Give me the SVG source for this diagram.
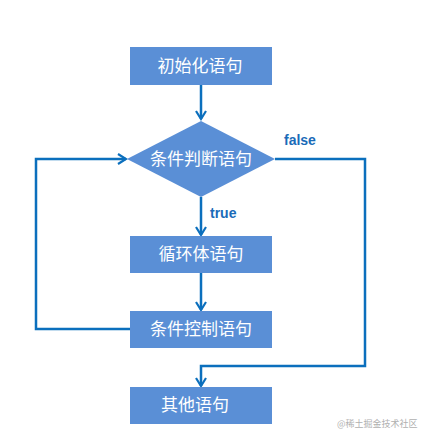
<svg xmlns="http://www.w3.org/2000/svg" width="430" height="440" viewBox="0 0 430 440">
<style>
.box{fill:#5a8fd6}
.t{fill:#fff;font-family:"Noto Sans CJK SC","Noto Sans",sans-serif;font-size:17px;text-anchor:middle}
.lbl{fill:#1a6bb8;font-family:"Liberation Sans","Noto Sans",sans-serif;font-size:14px;font-weight:bold}
.ln{fill:none;stroke:#0b6fbd;stroke-width:2.5}
.wm{fill:#b0b0b0;font-family:"Noto Sans CJK SC",sans-serif;font-size:9px}
</style>
<defs>
<marker id="ah" viewBox="0 0 12 12" refX="10" refY="6" markerWidth="12" markerHeight="12" markerUnits="userSpaceOnUse" orient="auto">
<path d="M2,1 L10,6 L2,11" fill="none" stroke="#0b6fbd" stroke-width="2.2"/>
</marker>
</defs>
<rect width="430" height="440" fill="#fff"/>
<g id="connectors">
<path class="ln" d="M201,85 V119" marker-end="url(#ah)"/>
<path class="ln" d="M201,197 V235" marker-end="url(#ah)"/>
<path class="ln" d="M201,273 V310" marker-end="url(#ah)"/>
<path class="ln" d="M130,329 H36 V159 H126" marker-end="url(#ah)"/>
<path class="ln" d="M275,159 H365 V366 H201 V386" marker-end="url(#ah)"/>
<text class="lbl" x="284" y="145">false</text>
<text class="lbl" x="210" y="218">true</text>
</g>
<g id="n1"><rect class="box" x="130" y="47" width="142" height="38"/><text class="t" x="200" y="72">初始化语句</text></g>
<g id="n2"><polygon class="box" points="201,121 275,159 201,197 127,159"/><text class="t" x="201" y="165">条件判断语句</text></g>
<g id="n3"><rect class="box" x="130" y="236" width="142" height="37"/><text class="t" x="201" y="260">循环体语句</text></g>
<g id="n4"><rect class="box" x="130" y="311" width="142" height="37"/><text class="t" x="201" y="335">条件控制语句</text></g>
<g id="n5"><rect class="box" x="130" y="387" width="142" height="37"/><text class="t" x="195" y="411">其他语句</text></g>
<text class="wm" x="337" y="427">@稀土掘金技术社区</text>
</svg>
